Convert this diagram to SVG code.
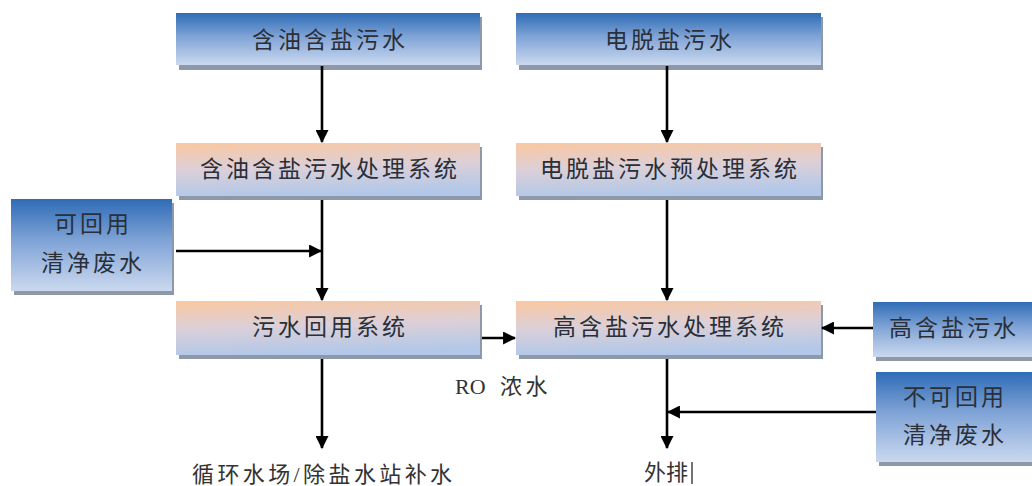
<svg xmlns="http://www.w3.org/2000/svg" width="1032" height="486" viewBox="0 0 1032 486">
<defs>
<linearGradient id="gBlue" x1="0" y1="0" x2="0" y2="1">
<stop offset="0" stop-color="#2f6cb6"/>
<stop offset="0.45" stop-color="#7fa3d6"/>
<stop offset="1" stop-color="#cbd9ef"/>
</linearGradient>
<linearGradient id="gPeach" x1="0" y1="0" x2="0.15" y2="1">
<stop offset="0" stop-color="#fac7a0"/>
<stop offset="0.5" stop-color="#dcd0d8"/>
<stop offset="1" stop-color="#b3c8e8"/>
</linearGradient>
<marker id="arr" viewBox="0 0 12 12" refX="11" refY="6" markerWidth="13" markerHeight="13" markerUnits="userSpaceOnUse" orient="auto">
<path d="M0,0 L12,6 L0,12 z" fill="#000"/>
</marker>
</defs>
<style>
.sh{fill:#8d98a8}
.blue{fill:url(#gBlue)}
.peach{fill:url(#gPeach)}
.t{font-family:"Liberation Serif","Noto Sans CJK SC",serif;font-size:23px;fill:#2a2f38;text-anchor:middle;dominant-baseline:central;letter-spacing:3px}
.lbl{font-family:"Liberation Serif","Noto Sans CJK SC",serif;font-size:22px;fill:#333;dominant-baseline:central;letter-spacing:3.4px}
.c{stroke:#000;stroke-width:2.6;fill:none;marker-end:url(#arr)}
</style>
<rect width="1032" height="486" fill="#fff"/>
<g id="n1">
<rect class="sh" x="179" y="17" width="303" height="53"/>
<rect class="blue" x="176" y="13" width="304" height="52"/>
<text class="t" x="330" y="40">含油含盐污水</text>
</g>
<g id="n2">
<rect class="sh" x="519" y="17" width="304" height="53"/>
<rect class="blue" x="516" y="13" width="305" height="52"/>
<text class="t" x="670" y="40">电脱盐污水</text>
</g>
<g id="n3">
<rect class="sh" x="179" y="147" width="303" height="53"/>
<rect class="peach" x="176" y="143" width="304" height="53"/>
<text class="t" x="330" y="169">含油含盐污水处理系统</text>
</g>
<g id="n4">
<rect class="sh" x="519" y="147" width="304" height="53"/>
<rect class="peach" x="516" y="143" width="305" height="53"/>
<text class="t" x="670" y="169">电脱盐污水预处理系统</text>
</g>
<g id="n5">
<rect class="sh" x="14" y="203" width="160" height="92"/>
<rect class="blue" x="11" y="199" width="161" height="92"/>
<text class="t" x="93" y="224">可回用</text>
<text class="t" x="93" y="263">清净废水</text>
</g>
<g id="n6">
<rect class="sh" x="179" y="305" width="303" height="54"/>
<rect class="peach" x="176" y="301" width="304" height="54"/>
<text class="t" x="330" y="327">污水回用系统</text>
</g>
<g id="n7">
<rect class="sh" x="519" y="305" width="304" height="54"/>
<rect class="peach" x="516" y="301" width="305" height="54"/>
<text class="t" x="670" y="327">高含盐污水处理系统</text>
</g>
<g id="n8">
<rect class="sh" x="876" y="306" width="160" height="55"/>
<rect class="blue" x="873" y="302" width="162" height="55"/>
<text class="t" x="954" y="328">高含盐污水</text>
</g>
<g id="n9">
<rect class="sh" x="879" y="376" width="160" height="90"/>
<rect class="blue" x="876" y="372" width="160" height="90"/>
<text class="t" x="955" y="397">不可回用</text>
<text class="t" x="955" y="435">清净废水</text>
</g>
<g id="connectors">
<line class="c" x1="322" y1="66" x2="322" y2="142"/>
<line class="c" x1="667" y1="66" x2="667" y2="142"/>
<line class="c" x1="322" y1="200" x2="322" y2="300"/>
<line class="c" x1="176" y1="251" x2="321" y2="251"/>
<line class="c" x1="667" y1="200" x2="667" y2="300"/>
<line class="c" x1="482" y1="338" x2="515" y2="338"/>
<line class="c" x1="873" y1="328" x2="822" y2="328"/>
<line class="c" x1="322" y1="359" x2="322" y2="448"/>
<line class="c" x1="667" y1="359" x2="667" y2="448"/>
<line class="c" x1="876" y1="412" x2="668" y2="412"/>
</g>
<g id="labels">
<text class="lbl" x="455" y="386"><tspan style="letter-spacing:0">RO </tspan><tspan x="500">浓水</tspan></text>
<text class="lbl" x="192" y="474">循环水场/除盐水站补水</text>
<text class="lbl" x="644" y="472" style="letter-spacing:0">外排</text>
<line x1="692" y1="462" x2="692" y2="484" stroke="#444" stroke-width="1.5"/>
</g>
</svg>
